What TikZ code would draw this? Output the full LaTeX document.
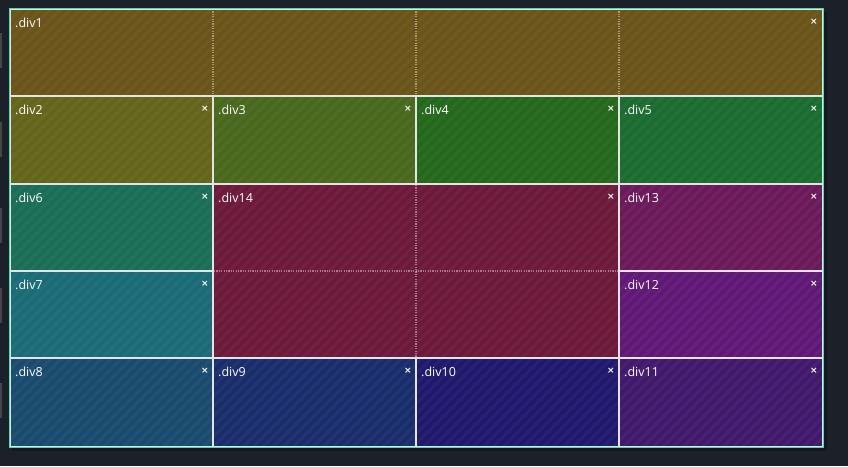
\documentclass[tikz,border=0pt]{standalone}
\usepackage{fontspec}
\setmainfont{Open Sans}
\newfontfamily\xfont{DejaVu Sans}
\definecolor{bgc}{HTML}{1C2029}
\definecolor{teal}{HTML}{3FE0B4}
\definecolor{gridw}{HTML}{E4E4E4}
\definecolor{cA}{RGB}{106,84,26}
\definecolor{cB}{RGB}{101,100,27}
\definecolor{cC}{RGB}{72,104,28}
\definecolor{cD}{RGB}{36,104,28}
\definecolor{cE}{RGB}{27,108,48}
\definecolor{cF}{RGB}{26,110,86}
\definecolor{cG}{RGB}{26,107,118}
\definecolor{cH}{RGB}{25,75,110}
\definecolor{cI}{RGB}{25,45,108}
\definecolor{cJ}{RGB}{32,24,108}
\definecolor{cK}{RGB}{65,24,108}
\definecolor{cL}{RGB}{96,24,118}
\definecolor{cM}{RGB}{108,25,90}
\definecolor{cN}{RGB}{108,25,58}
\tikzset{
  lab/.style={anchor=west, inner sep=0pt, text=white, font=\fontsize{12.5}{14}\selectfont},
  xm/.style={inner sep=0pt, text=white, font=\xfont\bfseries\fontsize{9}{10}\selectfont},
  solidline/.style={draw=gridw, line width=2pt},
  dotline/.style={draw=white, draw opacity=0.4, line width=1.2pt, dash pattern=on 1.2pt off 1.2pt},
  stripe/.style={draw=white, draw opacity=0.04, line width=3pt},
  sidebar/.style={fill=gray!40!bgc}
}
\newcommand{\gcell}[7]{%
  \fill[#5] (#1,#2) rectangle (#3,#4);
  \node[lab] (#7) at ({#1+5},{#2+14}) {#6};
  \node[xm] (#7x) at ({#3-8},{#2+13}) {×};
}
\begin{document}
\begin{tikzpicture}[x=1pt,y=-1pt]
\useasboundingbox (0,0) rectangle (848,466);
\fill[bgc] (0,0) rectangle (848,466);
% left side bars
\foreach \a in {33,122,208,288,383} {\fill[sidebar] (0,\a) rectangle (1.8,\a+35);}
% shadow
\fill[black, opacity=0.25] (12,12) rectangle (827,451);
% cells
\fill[cA] (10,9) rectangle (822,96);
\node[lab] (d1) at (15,23) {.div1};
\node[xm] (d1x) at (814,22) {×};
\gcell{10}{96}{213}{184}{cB}{.div2}{d2}
\gcell{213}{96}{416}{184}{cC}{.div3}{d3}
\gcell{416}{96}{619}{184}{cD}{.div4}{d4}
\gcell{619}{96}{822}{184}{cE}{.div5}{d5}
\gcell{10}{184}{213}{271}{cF}{.div6}{d6}
\fill[cN] (213,184) rectangle (619,358);
\node[lab] (d14) at (218,198) {.div14};
\node[xm] (d14x) at (611,197) {×};
\gcell{619}{184}{822}{271}{cM}{.div13}{d13}
\gcell{10}{271}{213}{358}{cG}{.div7}{d7}
\gcell{619}{271}{822}{358}{cL}{.div12}{d12}
\gcell{10}{358}{213}{446}{cH}{.div8}{d8}
\gcell{213}{358}{416}{446}{cI}{.div9}{d9}
\gcell{416}{358}{619}{446}{cJ}{.div10}{d10}
\gcell{619}{358}{822}{446}{cK}{.div11}{d11}
% stripes
\begin{scope}
\clip (10,9) rectangle (822,446);
\foreach \i in {-450,-440,...,830} {\draw[stripe] (\i,450) -- (\i+445,5);}
\end{scope}
% dotted inner lines
\draw[dotline] (213,9) -- (213,95);
\draw[dotline] (416,9) -- (416,95);
\draw[dotline] (619,9) -- (619,95);
\draw[dotline] (416,185) -- (416,357);
\draw[dotline] (214,271) -- (618,271);
% solid grid lines
\draw[solidline] (10,96) -- (822,96);
\draw[solidline] (10,184) -- (822,184);
\draw[solidline] (10,271) -- (213,271);
\draw[solidline] (619,271) -- (822,271);
\draw[solidline] (10,358) -- (822,358);
\draw[solidline] (213,96) -- (213,446);
\draw[solidline] (619,96) -- (619,446);
\draw[solidline] (416,96) -- (416,184);
\draw[solidline] (416,358) -- (416,446);
% outer border
\draw[gridw, line width=1pt] (10.5,9.5) rectangle (822,446);
\draw[teal, line width=1.2pt] (9.2,8.2) rectangle (823.3,447.3);
\end{tikzpicture}
\end{document}
